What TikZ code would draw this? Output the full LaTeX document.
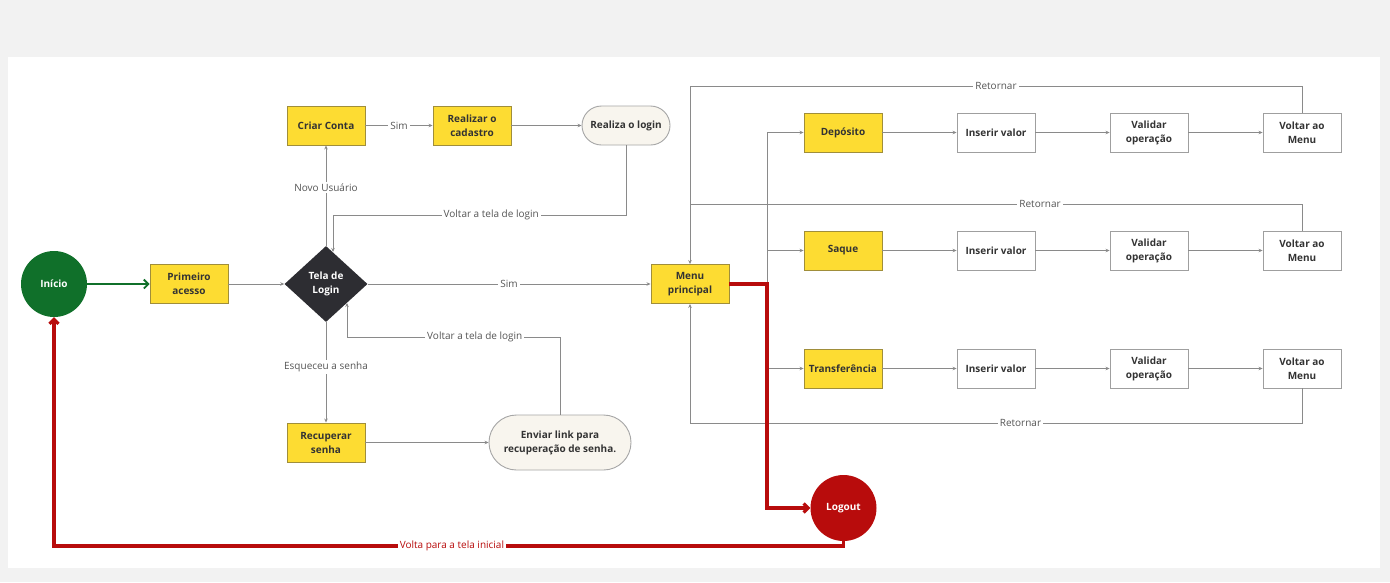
\documentclass[tikz,border=0pt]{standalone}
\usepackage{fontspec}
\setmainfont{Open Sans}
\usetikzlibrary{arrows.meta, positioning, shapes.geometric, shapes.misc}

\definecolor{bggray}{HTML}{F2F2F2}
\definecolor{boxyellow}{HTML}{FDDC32}
\definecolor{boxedge}{HTML}{A08E3A}
\definecolor{inkdark}{HTML}{333333}
\definecolor{linegray}{HTML}{8A8A8A}
\definecolor{labelgray}{HTML}{555555}
\definecolor{startgreen}{HTML}{10702A}
\definecolor{stopred}{HTML}{B80C0C}
\definecolor{pillfill}{HTML}{F8F5EE}
\definecolor{loginfill}{HTML}{2D2D32}

\begin{document}
\begin{tikzpicture}[
    x=1pt, y=-1pt,
    every node/.style={font=\fontsize{10}{14}\selectfont, text=inkdark, align=center},
    process/.style={rectangle, draw=boxedge, fill=boxyellow, line width=0.9pt, minimum width=78pt, minimum height=39pt, inner sep=2pt, font=\fontsize{10}{14}\selectfont\bfseries},
    stepbox/.style={process, draw=gray!75, fill=white},
    terminal/.style={rounded rectangle, draw=gray!70, fill=pillfill, line width=0.9pt, minimum height=39pt, inner sep=2pt, font=\fontsize{10}{14}\selectfont\bfseries},
    decision/.style={diamond, fill=loginfill, text=white, minimum width=83pt, minimum height=76pt, inner sep=0pt, font=\fontsize{10}{14}\selectfont\bfseries},
    startstop/.style={circle, minimum size=66pt, inner sep=0pt, text=white, font=\fontsize{10}{14}\selectfont\bfseries},
    edge/.style={draw=linegray, line width=0.8pt, -{Stealth[length=4pt, width=3.5pt]}},
    link/.style={draw=linegray, line width=0.8pt},
    strong/.style={line width=3.2pt, -{Straight Barb[length=4.5pt, width=9pt]}},
    lbl/.style={fill=white, inner sep=2pt, text=labelgray},
]

% Canvas
\fill[bggray] (0,0) rectangle (1390,582);
\fill[white] (8,57) rectangle (1380,568);

% Login flow
\node[startstop, fill=startgreen] (inicio) at (54,284) {Início};
\node[process] (primeiro) at (189,284) {Primeiro\\acesso};
\node[decision] (login) at (326,284) {Tela de\\Login};
\node[process] (criar) at (326,125.5) {Criar Conta};
\node[process] (cadastro) at (472,125.5) {Realizar o\\cadastro};
\node[terminal, minimum width=92pt] (realiza) at (626,125.5) {Realiza o login};
\node[process] (recuperar) at (326,442.5) {Recuperar\\senha};
\node[terminal, minimum width=146pt, minimum height=55pt] (enviar) at (560,442.5) {Enviar link para\\recuperação de senha.};

% Menu and operations
\node[process] (menu) at (690,284) {Menu\\principal};
\node[startstop, fill=stopred] (logout) at (843.5,508) {Logout};

\node[process] (deposito) at (843,132.5) {Depósito};
\node[stepbox] (inserir1) at (996,132.5) {Inserir valor};
\node[stepbox] (validar1) at (1149,132.5) {Validar\\operação};
\node[stepbox] (voltar1) at (1302,132.5) {Voltar ao\\Menu};

\node[process] (saque) at (843,250.5) {Saque};
\node[stepbox] (inserir2) at (996,250.5) {Inserir valor};
\node[stepbox] (validar2) at (1149,250.5) {Validar\\operação};
\node[stepbox] (voltar2) at (1302,250.5) {Voltar ao\\Menu};

\node[process] (transf) at (843,368.5) {Transferência};
\node[stepbox] (inserir3) at (996,368.5) {Inserir valor};
\node[stepbox] (validar3) at (1149,368.5) {Validar\\operação};
\node[stepbox] (voltar3) at (1302,368.5) {Voltar ao\\Menu};

% Bend points
\coordinate (topback) at (333,215);
\coordinate (topin) at (333,252);
\coordinate (lowback) at (347,337);
\coordinate (lowin) at (347,303);
\coordinate (split) at (767,284);
\coordinate (ret1) at (690,86);
\coordinate (ret2) at (690,204);
\coordinate (ret3) at (690,423);
\coordinate (back) at (843.5,546);

% Connectors
\draw[strong, startgreen, line width=1.8pt] (inicio) -- (primeiro);
\draw[edge] (primeiro) -- (login);
\draw[edge] (login) -- node[lbl, pos=0.58] {Novo Usuário} (criar);
\draw[edge] (criar) -- node[lbl] {Sim} (cadastro);
\draw[edge] (cadastro) -- (realiza);
\draw[edge] (realiza.south) |- node[lbl, pos=0.73] {Voltar a tela de login} (topback) -- (topin);
\draw[edge] (login) -- node[lbl] {Sim} (menu);
\draw[edge] (login) -- node[lbl, pos=0.45] {Esqueceu a senha} (recuperar);
\draw[edge] (recuperar) -- (enviar);
\draw[edge] (enviar.north) |- node[lbl, pos=0.70] {Voltar a tela de login} (lowback) -- (lowin);

\draw[link] (menu.east) -- (split);
\draw[edge] (split) |- (deposito);
\draw[edge] (split) -- (saque.west -| split) -- (saque);
\draw[edge] (split) |- (transf);

\foreach \row in {1,2,3}{
  \draw[edge] (inserir\row) -- (validar\row);
  \draw[edge] (validar\row) -- (voltar\row);
}
\draw[edge] (deposito) -- (inserir1);
\draw[edge] (saque) -- (inserir2);
\draw[edge] (transf) -- (inserir3);

\draw[edge] (voltar1.north) |- node[lbl, pos=0.75] {Retornar} (ret1) -- (menu.north);
\draw[link] (voltar2.north) |- node[lbl, pos=0.714] {Retornar} (ret2);
\draw[edge] (voltar3.south) |- node[lbl, pos=0.73] {Retornar} (ret3) -- (menu.south);

% Logout path
\draw[strong, stopred] (menu.east) -| (logout.west -| split) -- (logout);
\draw[strong, stopred] (logout.south) -- (back) -| node[lbl, pos=0.248, text=stopred] {Volta para a tela inicial} (inicio);

\end{tikzpicture}
\end{document}
